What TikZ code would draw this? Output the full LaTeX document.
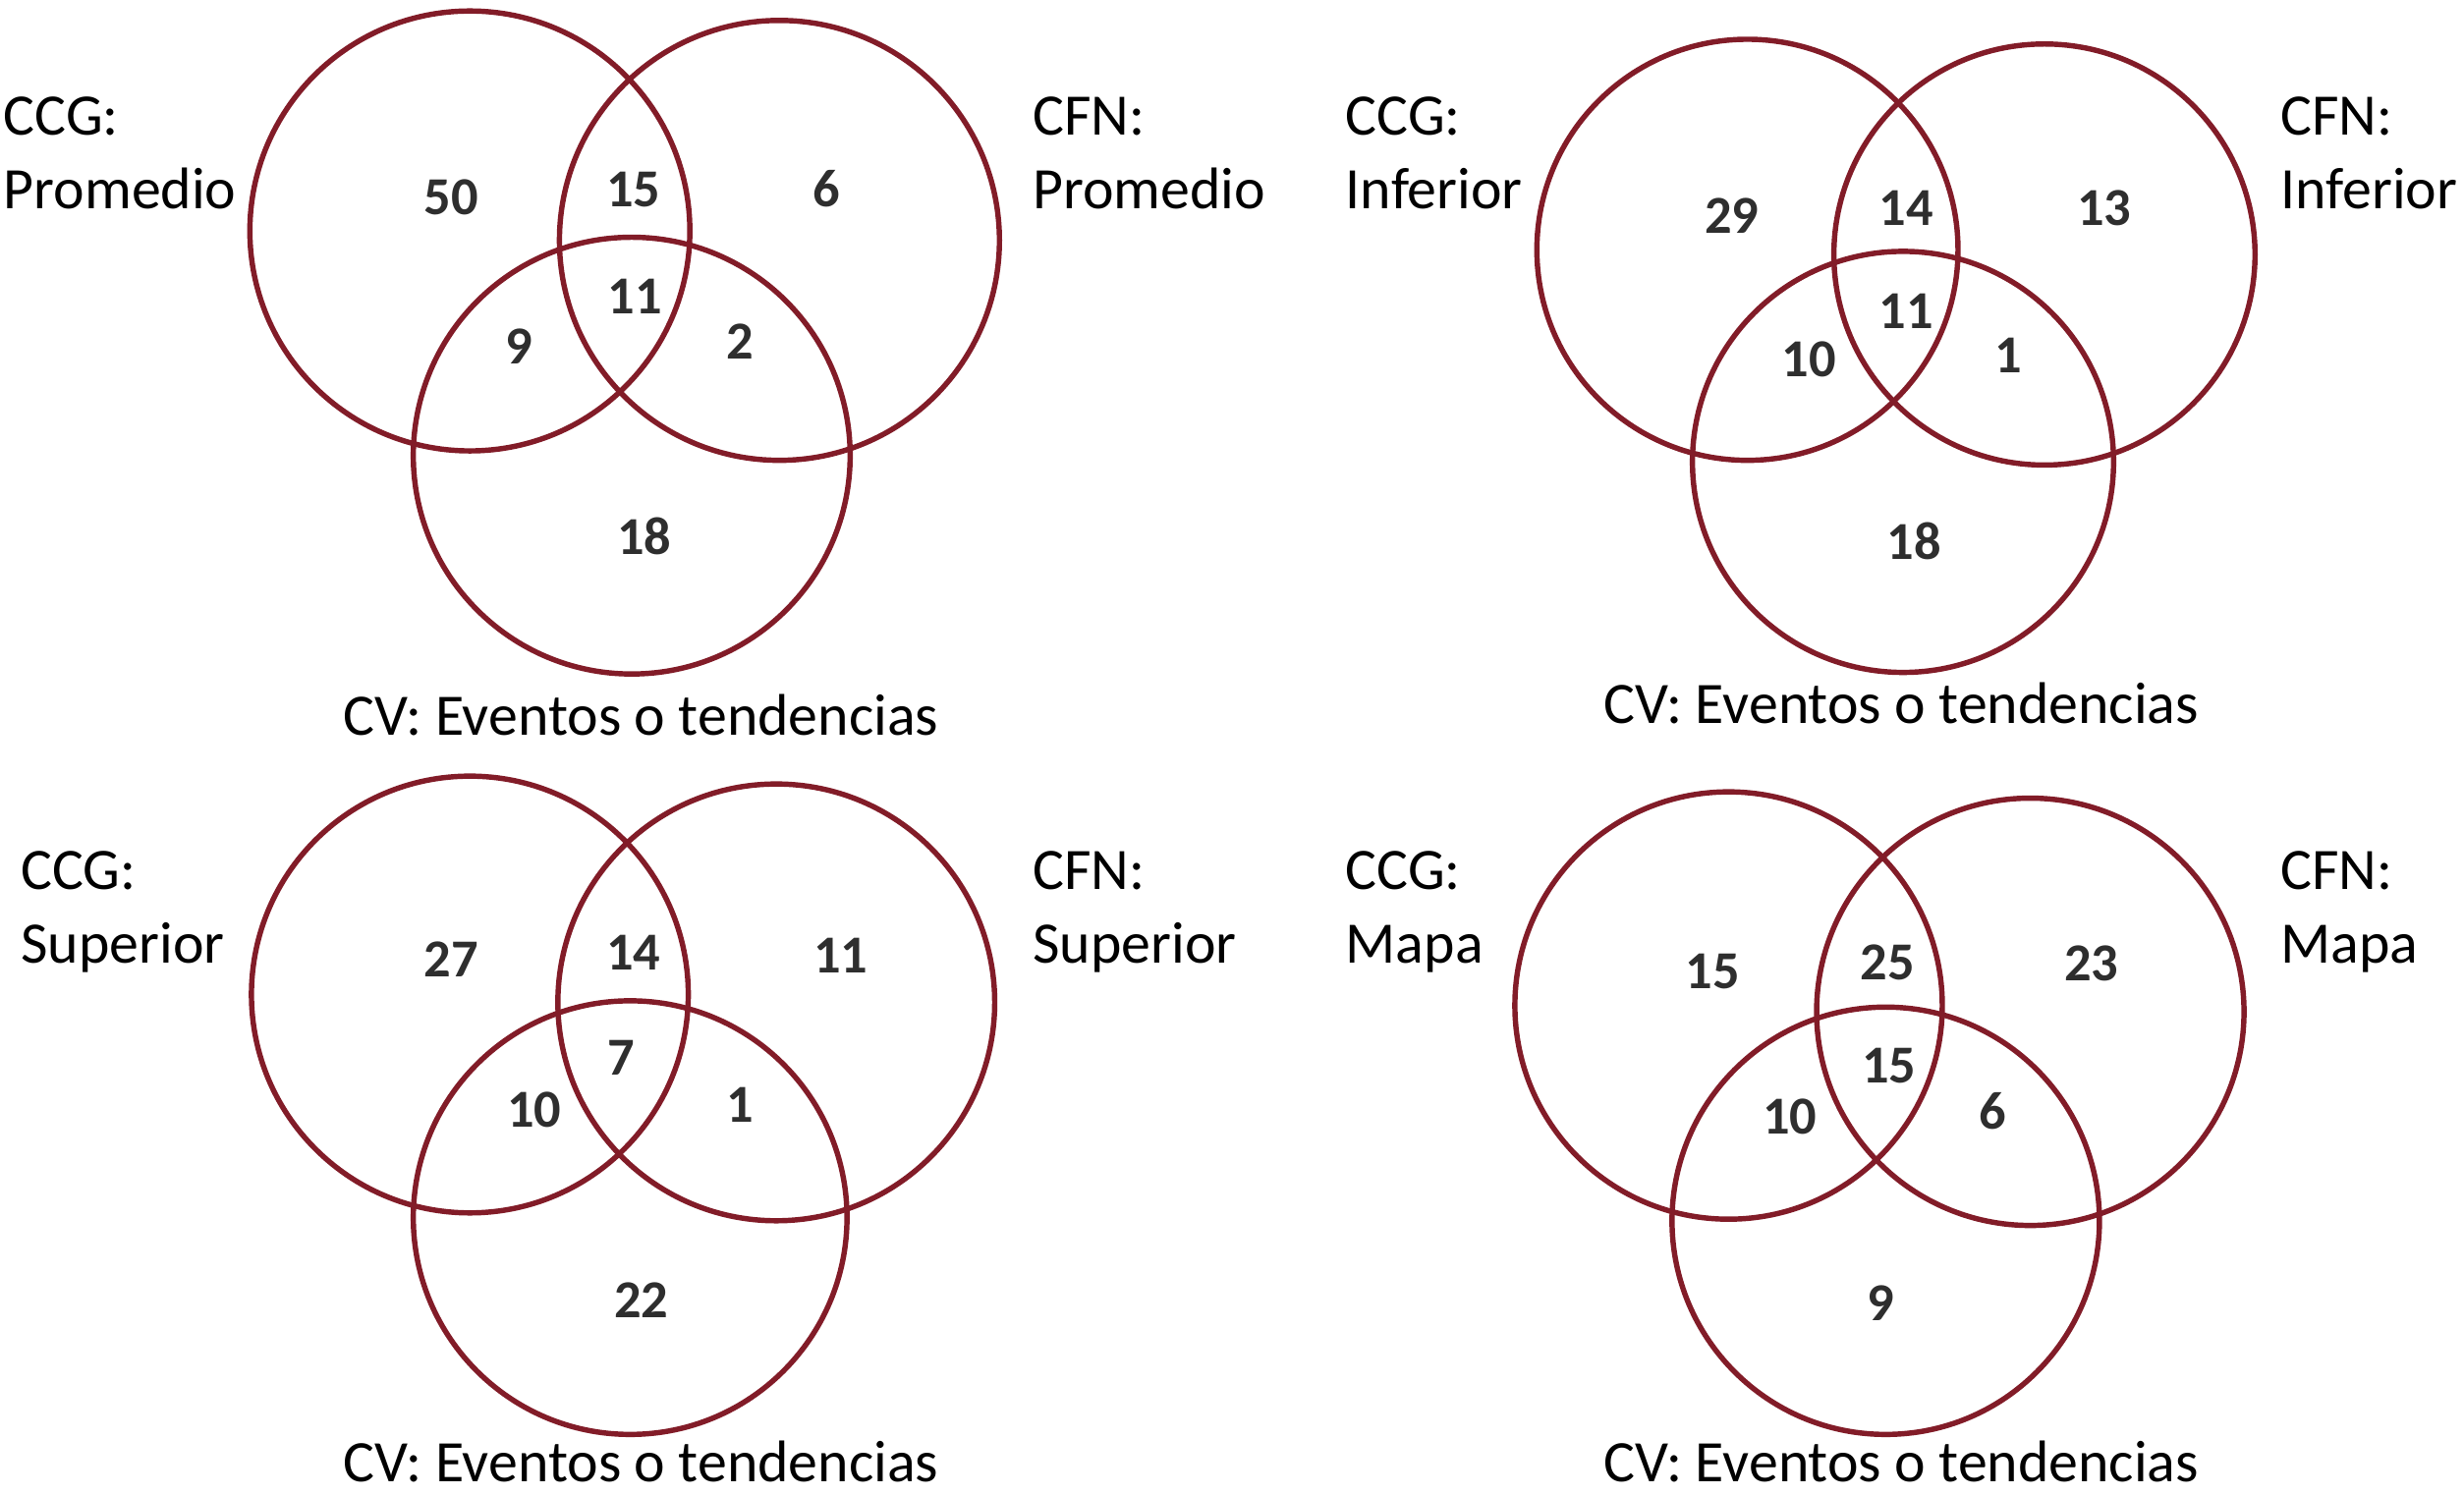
\documentclass[tikz,border=0pt]{standalone}
\usepackage{fontspec}
\setmainfont{Carlito}
\newfontfamily\numfont{Carlito}
\definecolor{ringred}{RGB}{130,28,40}
\tikzset{
  ring/.style={draw=ringred, line width=1.7pt},
  lbl/.style={anchor=base west, inner sep=0pt, font=\fontsize{18.7}{22}\selectfont},
  cvlbl/.style={anchor=base, inner sep=0pt, font=\fontsize{18.7}{22}\selectfont},
  num/.style={anchor=base, inner sep=0pt, font=\fontsize{17}{20}\numfont\bfseries, text=black!82}
}
\begin{document}
\begin{tikzpicture}[x=0.5pt,y=-0.5pt]
\useasboundingbox (0,0) rectangle (1568,951);
% ---------- top-left ----------
\draw[ring] (299,147) circle[radius=140];
\draw[ring] (496,153) circle[radius=140];
\draw[ring] (402,290) circle[radius=139];
\node[lbl] (tlA1) at (2,86) {CCG:};
\node[lbl] (tlA2) at (2,133) {Promedio};
\node[lbl] (tlB1) at (657,86) {CFN:};
\node[lbl] (tlB2) at (657,133) {Promedio};
\node[cvlbl] (tlC) at (408,468) {CV: Eventos o tendencias};
\node[num] (tl1) at (287,136.5) {50};
\node[num] (tl2) at (403,131.5) {15};
\node[num] (tl3) at (526,131.5) {6};
\node[num] (tl4) at (404,199.5) {11};
\node[num] (tl5) at (330,231.5) {9};
\node[num] (tl6) at (471,228.5) {2};
\node[num] (tl7) at (410,353) {18};
% ---------- top-right ----------
\draw[ring] (1112,159) circle[radius=134];
\draw[ring] (1301,162) circle[radius=134];
\draw[ring] (1211,294) circle[radius=134];
\node[lbl] (trA1) at (856,86) {CCG:};
\node[lbl] (trA2) at (856,133) {Inferior};
\node[lbl] (trB1) at (1451,86) {CFN:};
\node[lbl] (trB2) at (1451,133) {Inferior};
\node[cvlbl] (trC) at (1210,460.5) {CV: Eventos o tendencias};
\node[num] (tr1) at (1102,148.5) {29};
\node[num] (tr2) at (1213,143.5) {14};
\node[num] (tr3) at (1339,143.5) {13};
\node[num] (tr4) at (1213,209) {11};
\node[num] (tr5) at (1151,239.5) {10};
\node[num] (tr6) at (1278,237.5) {1};
\node[num] (tr7) at (1218,356) {18};
% ---------- bottom-left ----------
\draw[ring] (299,633) circle[radius=139];
\draw[ring] (494,638) circle[radius=139];
\draw[ring] (401,775) circle[radius=138];
\node[lbl] (blA1) at (13,566) {CCG:};
\node[lbl] (blA2) at (13,613) {Superior};
\node[lbl] (blB1) at (657,566) {CFN:};
\node[lbl] (blB2) at (657,613) {Superior};
\node[cvlbl] (blC) at (408,943) {CV: Eventos o tendencias};
\node[num] (bl1) at (287,622) {27};
\node[num] (bl2) at (403,617.5) {14};
\node[num] (bl3) at (535,619) {11};
\node[num] (bl4) at (395,684.5) {7};
\node[num] (bl5) at (340,717.5) {10};
\node[num] (bl6) at (471,714.5) {1};
\node[num] (bl7) at (408,839) {22};
% ---------- bottom-right ----------
\draw[ring] (1100,640) circle[radius=136];
\draw[ring] (1292,644) circle[radius=136];
\draw[ring] (1200,777) circle[radius=136];
\node[lbl] (brA1) at (856,566) {CCG:};
\node[lbl] (brA2) at (856,613) {Mapa};
\node[lbl] (brB1) at (1451,566) {CFN:};
\node[lbl] (brB2) at (1451,613) {Mapa};
\node[cvlbl] (brC) at (1210,943) {CV: Eventos o tendencias};
\node[num] (br1) at (1090,629.5) {15};
\node[num] (br2) at (1201,623.5) {25};
\node[num] (br3) at (1331,624.5) {23};
\node[num] (br4) at (1202,689.5) {15};
\node[num] (br5) at (1139,721.5) {10};
\node[num] (br6) at (1268,718.5) {6};
\node[num] (br7) at (1197,840.5) {9};
\end{tikzpicture}
\end{document}
